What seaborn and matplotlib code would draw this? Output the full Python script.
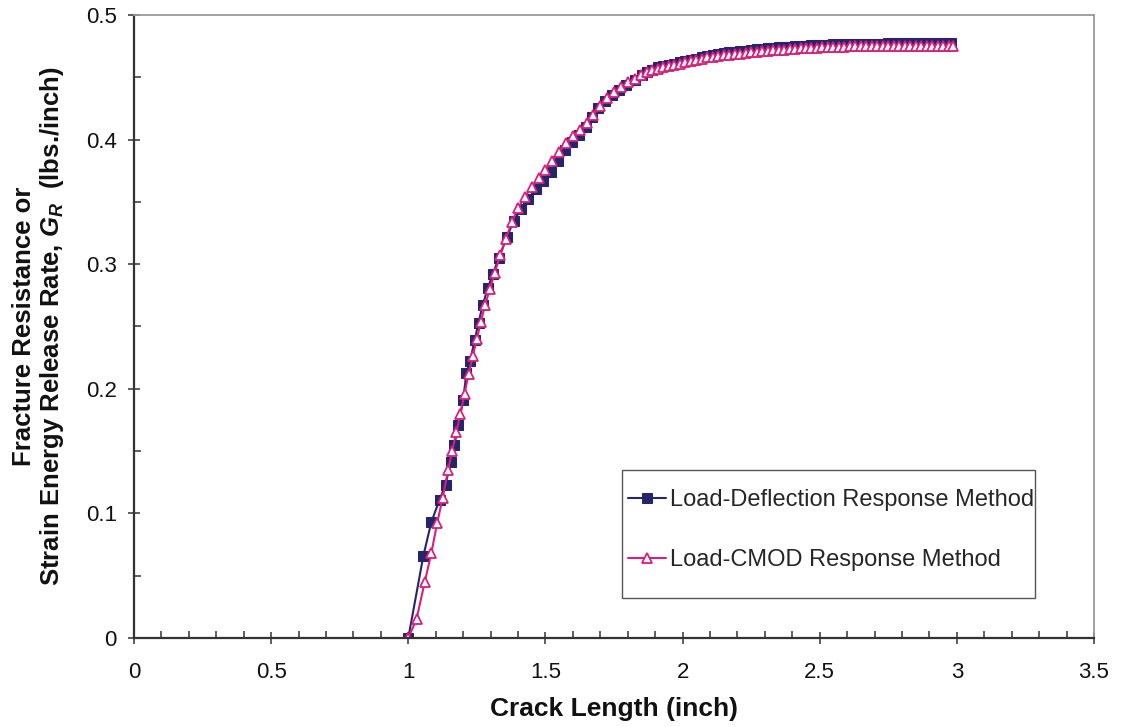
import matplotlib
matplotlib.use("Agg")
import matplotlib.pyplot as plt
import seaborn as sns
import pandas as pd
from matplotlib.ticker import MultipleLocator, FixedLocator
from matplotlib.patches import Rectangle

# ---------------- data ----------------
defl_x = [1.000, 1.055, 1.084, 1.114, 1.136, 1.154, 1.168, 1.183, 1.200, 1.212,
          1.225, 1.242, 1.256, 1.271, 1.290, 1.308, 1.330, 1.360, 1.385, 1.410,
          1.438, 1.465, 1.492, 1.520, 1.545, 1.571, 1.597, 1.622, 1.648, 1.670,
          1.692, 1.718, 1.744, 1.770, 1.795, 1.825, 1.853,
          1.870, 1.890, 1.910, 1.930, 1.950, 1.970, 1.990, 2.010, 2.030, 2.050,
          2.070, 2.090, 2.110, 2.130, 2.150, 2.170, 2.190, 2.210, 2.230, 2.250,
          2.270, 2.290, 2.310, 2.330, 2.350, 2.370, 2.390, 2.410, 2.430, 2.450,
          2.470, 2.490, 2.510, 2.530, 2.550, 2.570, 2.590, 2.610, 2.630, 2.650,
          2.670, 2.690, 2.710, 2.730, 2.750, 2.770, 2.790, 2.810, 2.830, 2.850,
          2.870, 2.890, 2.910, 2.930, 2.950, 2.970, 2.980]
defl_y = [0.000, 0.066, 0.093, 0.111, 0.123, 0.141, 0.155, 0.171, 0.191, 0.213,
          0.222, 0.239, 0.253, 0.267, 0.281, 0.292, 0.305, 0.322, 0.335, 0.344,
          0.352, 0.360, 0.367, 0.374, 0.383, 0.392, 0.398, 0.404, 0.410, 0.418,
          0.425, 0.431, 0.436, 0.440, 0.444, 0.448, 0.452,
          0.454, 0.456, 0.458, 0.459, 0.460, 0.461, 0.462, 0.463, 0.464, 0.465,
          0.466, 0.467, 0.468, 0.469, 0.4695, 0.470, 0.4705, 0.471, 0.4715, 0.472,
          0.4724, 0.4728, 0.4732, 0.4736, 0.474, 0.4743, 0.4746, 0.4749, 0.4752, 0.4755,
          0.4757, 0.4759, 0.4761, 0.4763, 0.4765, 0.4767, 0.4768, 0.4769, 0.477, 0.477,
          0.477, 0.4771, 0.4771, 0.4771, 0.4772, 0.4772, 0.4772, 0.4772, 0.4773, 0.4773,
          0.4773, 0.4773, 0.4773, 0.4773, 0.4773, 0.4773, 0.4773]

cmod_x = [1.000, 1.030, 1.060, 1.084, 1.105, 1.125, 1.145, 1.160, 1.175, 1.190,
          1.205, 1.220, 1.235, 1.250, 1.265, 1.280, 1.297, 1.315, 1.335, 1.355,
          1.378, 1.400, 1.425, 1.450, 1.475, 1.500, 1.525, 1.550, 1.575, 1.600,
          1.625, 1.650, 1.675, 1.700, 1.725, 1.750, 1.775, 1.800, 1.825, 1.850,
          1.870, 1.890, 1.910, 1.930, 1.950, 1.970, 1.990, 2.010, 2.030, 2.050,
          2.070, 2.090, 2.110, 2.130, 2.150, 2.170, 2.190, 2.210, 2.230, 2.250,
          2.270, 2.290, 2.310, 2.330, 2.350, 2.370, 2.390, 2.410, 2.430, 2.450,
          2.470, 2.490, 2.510, 2.530, 2.550, 2.570, 2.590, 2.610, 2.630, 2.650,
          2.670, 2.690, 2.710, 2.730, 2.750, 2.770, 2.790, 2.810, 2.830, 2.850,
          2.870, 2.890, 2.910, 2.930, 2.950, 2.970, 2.985]
cmod_y = [0.000, 0.015, 0.045, 0.068, 0.092, 0.112, 0.135, 0.150, 0.165, 0.180,
          0.196, 0.212, 0.226, 0.240, 0.254, 0.267, 0.280, 0.293, 0.307, 0.320,
          0.334, 0.345, 0.354, 0.362, 0.369, 0.376, 0.383, 0.390, 0.397, 0.403,
          0.408, 0.413, 0.420, 0.427, 0.433, 0.438, 0.442, 0.446, 0.449, 0.452,
          0.454, 0.456, 0.457, 0.458, 0.459, 0.460, 0.461, 0.462, 0.463, 0.464,
          0.465, 0.466, 0.4665, 0.467, 0.4675, 0.468, 0.4685, 0.469, 0.4695, 0.470,
          0.4705, 0.471, 0.4713, 0.4716, 0.472, 0.4723, 0.4726, 0.4729, 0.4732, 0.4735,
          0.4737, 0.4739, 0.4741, 0.4743, 0.4745, 0.4746, 0.4747, 0.4748, 0.4749, 0.475,
          0.475, 0.475, 0.475, 0.475, 0.475, 0.475, 0.475, 0.475, 0.475, 0.475,
          0.475, 0.475, 0.475, 0.475, 0.475, 0.475, 0.475]

series_names = ["Load-Deflection Response Method", "Load-CMOD Response Method"]
x_ticks = [0, 0.5, 1, 1.5, 2, 2.5, 3, 3.5]
x_tick_labels = ["0", "0.5", "1", "1.5", "2", "2.5", "3", "3.5"]
y_ticks = [0, 0.1, 0.2, 0.3, 0.4, 0.5]
y_tick_labels = ["0", "0.1", "0.2", "0.3", "0.4", "0.5"]

df = pd.concat([
    pd.DataFrame({"x": defl_x, "y": defl_y, "Method": series_names[0]}),
    pd.DataFrame({"x": cmod_x, "y": cmod_y, "Method": series_names[1]}),
], ignore_index=True)

# ---------------- style ----------------
sns.set_theme(style="white")
plt.rcParams["font.family"] = ["Liberation Sans", "DejaVu Sans"]
plt.rcParams["mathtext.fontset"] = "custom"
plt.rcParams["mathtext.it"] = "Liberation Sans:italic:bold"
plt.rcParams["mathtext.rm"] = "Liberation Sans:bold"
plt.rcParams["mathtext.bf"] = "Liberation Sans:bold"

W, H = 1123, 727
fig = plt.figure(figsize=(W / 100, H / 100), dpi=100)
AX_L, AX_R, AX_T, AX_B = 134, 1094, 15, 638
ax = fig.add_axes([AX_L / W, 1 - AX_B / H, (AX_R - AX_L) / W, (AX_B - AX_T) / H])

navy = "#25256c"
pink = "#d6207c"

sns.lineplot(data=df[df.Method == series_names[0]], x="x", y="y", ax=ax,
             color=navy, lw=1.5, marker="s", markersize=7,
             markerfacecolor=navy, markeredgecolor=navy, label=series_names[0],
             sort=False, estimator=None)
sns.lineplot(data=df[df.Method == series_names[1]], x="x", y="y", ax=ax,
             color=pink, lw=1.5, marker="^", markersize=7,
             markerfacecolor="white", markeredgecolor=pink, markeredgewidth=1.3,
             label=series_names[1], sort=False, estimator=None)

ax.set_xlim(0, 3.5)
ax.set_ylim(0, 0.5)
ax.xaxis.set_major_locator(FixedLocator(x_ticks))
ax.set_xticklabels(x_tick_labels)
ax.xaxis.set_minor_locator(MultipleLocator(0.1))
ax.yaxis.set_major_locator(FixedLocator(y_ticks))
ax.set_yticklabels(y_tick_labels)
ax.yaxis.set_minor_locator(MultipleLocator(0.05))

ax.tick_params(axis="both", which="both", bottom=True, left=True, top=False, right=False)
ax.tick_params(axis="both", which="major", direction="inout", length=9, width=1.1,
               color="#333333", labelsize=16, labelcolor="#111111")
ax.tick_params(axis="x", which="major", pad=13)
ax.tick_params(axis="y", which="major", pad=8)
ax.tick_params(axis="both", which="minor", direction="in", length=5, width=1.1,
               color="#333333")

for side in ["left", "bottom"]:
    ax.spines[side].set_color("#333333")
    ax.spines[side].set_linewidth(1.6)
for side in ["top", "right"]:
    ax.spines[side].set_color("#9a9a9a")
    ax.spines[side].set_linewidth(1.3)

ax.set_xlabel("Crack Length (inch)", fontsize=19, fontweight="bold",
              color="#111111", labelpad=10)
ax.set_ylabel("Fracture Resistance or\nStrain Energy Release Rate, $G_R$  (lbs./inch)",
              fontsize=18.5, fontweight="bold", color="#111111", labelpad=14,
              linespacing=1.1)

# legend box (drawn as a frame in axes coordinates) and legend entries
def ax_x(px):
    return (px - AX_L) / (AX_R - AX_L)

def ax_y(py):
    return (AX_B - py) / (AX_B - AX_T)

ax.add_patch(Rectangle((ax_x(622), ax_y(598)), ax_x(1035) - ax_x(622),
                       ax_y(470) - ax_y(598), transform=ax.transAxes,
                       facecolor="white", edgecolor="#555555", lw=1.0, zorder=4))
leg = ax.legend(loc="center left", bbox_to_anchor=(ax_x(628), ax_y(530)),
                fontsize=17, frameon=False, handlelength=1.6, handletextpad=0.2,
                labelspacing=1.6, borderpad=0, borderaxespad=0)
leg.set_zorder(5)

fig.savefig("out.png", dpi=100, facecolor="white")
